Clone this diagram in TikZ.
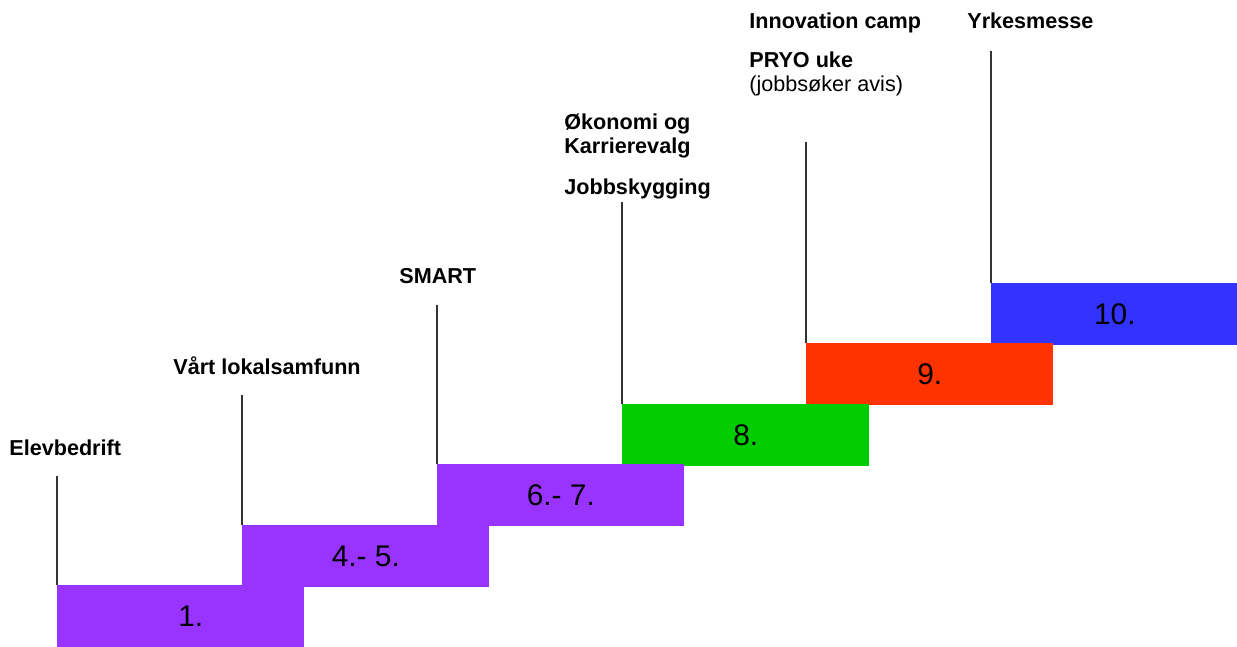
\documentclass[tikz,border=0pt]{standalone}
\usepackage{fontspec}
\setmainfont{Liberation Sans}
\definecolor{trinlilla}{HTML}{9933FF}
\definecolor{tringronn}{HTML}{00CC00}
\definecolor{trinrod}{HTML}{FF3300}
\definecolor{trinbla}{HTML}{3333FF}

\begin{document}
\begin{tikzpicture}[x=0.02cm,y=-0.02cm,
	trinn/.style={anchor=north west,minimum width=4.94cm,minimum height=1.24cm,inner sep=0pt,font=\fontsize{17}{20}\selectfont},
	stolpe/.style={line width=0.6pt,color=black!80},
	merke/.style={anchor=base west,inner sep=0pt,align=left,font=\bfseries\fontsize{12.3}{13.4}\selectfont}]
			%					\draw[help lines, step=50] (0,0) grid (1237,646);
			\useasboundingbox (0,0) rectangle (1237,646);
			
			% trappetrinn, fra toppen og ned
			\node[trinn, fill=trinbla] (s10) at (991,283) {10.};
			\node[trinn, fill=trinrod] (s9) at (806,343) {9.};
			\node[trinn, fill=tringronn] (s8) at (622,404) {8.};
			\node[trinn, fill=trinlilla] (s67) at (437,464) {6.- 7.};
			\node[trinn, fill=trinlilla] (s45) at (242,525) {4.- 5.};
			\node[trinn, fill=trinlilla] (s1) at (57,585) {\hspace*{0.4cm}1.};
			
			% stolper
			\coordinate (t1) at (57,476);
			\coordinate (t45) at (242,395);
			\coordinate (t67) at (437,305);
			\coordinate (t8) at (622,202);
			\coordinate (t9) at (806,142);
			\coordinate (t10) at (991,51);
			\draw [stolpe] (s1.north west) -- (t1);
			\draw [stolpe] (s45.north west) -- (t45);
			\draw [stolpe] (s67.north west) -- (t67);
			\draw [stolpe] (s8.north west) -- (t8);
			\draw [stolpe] (s9.north west) -- (t9);
			\draw [stolpe] (s10.north west) -- (t10);
			
			% tekster (base = siste linje)
			\node[merke] (elev) at (9,455) {Elevbedrift};
			\node[merke] (lokal) at (173,374) {Vårt lokalsamfunn};
			\node[merke] (smart) at (399,283) {SMART};
			\node[merke] (okonomi) at (564,153) {Økonomi og\\Karrierevalg};
			\node[merke] (jobb) at (564,194) {Jobbskygging};
			\node[merke] (innov) at (749,28) {Innovation camp};
			\node[merke] (pryo) at (749,91) {PRYO uke\\\mdseries(jobbsøker avis)};
			\node[merke] (yrke) at (967,28) {Yrkesmesse};
			
		\end{tikzpicture}
\end{document}
